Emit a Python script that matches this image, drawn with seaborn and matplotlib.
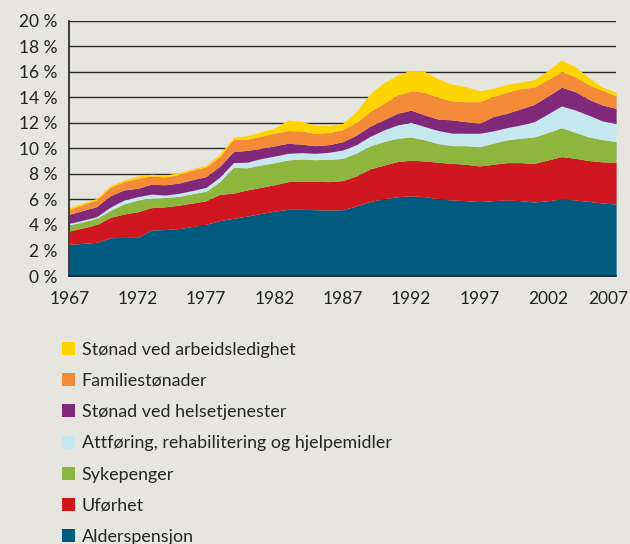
import numpy as np
import pandas as pd
import matplotlib
matplotlib.use('Agg')
import matplotlib.pyplot as plt
import matplotlib.transforms as mtransforms
import seaborn as sns
from matplotlib.patches import Patch

years = list(range(1967, 2008))

# prosent av BNP, lest av figuren
alderspensjon = [2.49, 2.56, 2.64, 3.00, 3.03, 3.03, 3.61, 3.64, 3.72, 3.88, 4.05, 4.35, 4.52, 4.70,
                 4.90, 5.08, 5.23, 5.23, 5.20, 5.18, 5.20, 5.50, 5.85, 6.05, 6.22, 6.28, 6.22, 6.05,
                 5.96, 5.91, 5.83, 5.91, 5.96, 5.91, 5.80, 5.90, 6.04, 5.96, 5.85, 5.72, 5.65]
uforhet = [1.04, 1.22, 1.38, 1.60, 1.83, 2.01, 1.75, 1.78, 1.83, 1.84, 1.85, 2.05, 1.98, 2.05,
           2.05, 2.07, 2.17, 2.22, 2.22, 2.22, 2.28, 2.35, 2.55, 2.65, 2.75, 2.80, 2.80, 2.87,
           2.87, 2.85, 2.80, 2.85, 2.93, 2.98, 3.03, 3.20, 3.32, 3.27, 3.20, 3.23, 3.27]
sykepenger = [0.47, 0.47, 0.50, 0.55, 0.79, 0.92, 0.74, 0.73, 0.70, 0.73, 0.75, 1.00, 2.02, 1.73,
              1.75, 1.73, 1.70, 1.73, 1.70, 1.75, 1.74, 1.80, 1.80, 1.85, 1.83, 1.82, 1.65, 1.46,
              1.39, 1.46, 1.51, 1.65, 1.78, 1.91, 2.07, 2.15, 2.27, 2.04, 1.85, 1.75, 1.61]
attforing = [0.13, 0.13, 0.13, 0.25, 0.31, 0.26, 0.32, 0.20, 0.23, 0.25, 0.30, 0.35, 0.37, 0.44,
             0.50, 0.52, 0.52, 0.49, 0.50, 0.55, 0.66, 0.65, 0.75, 0.90, 1.04, 1.15, 1.04, 1.02,
             0.98, 0.97, 1.05, 0.96, 0.96, 1.04, 1.20, 1.45, 1.70, 1.75, 1.70, 1.45, 1.44]
helse = [0.71, 0.76, 0.79, 0.90, 0.79, 0.66, 0.78, 0.80, 0.80, 0.85, 0.85, 0.85, 0.86, 0.93,
         0.80, 0.80, 0.79, 0.66, 0.60, 0.60, 0.65, 0.75, 0.80, 0.80, 0.92, 0.95, 0.92, 0.90,
         1.04, 0.91, 0.78, 1.13, 1.13, 1.26, 1.35, 1.40, 1.47, 1.44, 1.25, 1.25, 1.18]
familie = [0.39, 0.46, 0.52, 0.65, 0.65, 0.78, 0.65, 0.61, 0.67, 0.75, 0.75, 0.75, 0.95, 0.88,
           0.95, 1.00, 0.99, 1.04, 0.96, 0.95, 0.95, 1.00, 1.15, 1.30, 1.44, 1.50, 1.78, 1.70,
           1.49, 1.57, 1.70, 1.57, 1.65, 1.60, 1.35, 1.30, 1.23, 1.17, 1.15, 1.15, 0.97]
arbeidsledighet = [0.13, 0.12, 0.13, 0.13, 0.13, 0.18, 0.13, 0.16, 0.15, 0.12, 0.13, 0.20, 0.17, 0.27,
                   0.35, 0.40, 0.84, 0.73, 0.67, 0.55, 0.49, 0.85, 1.40, 1.60, 1.56, 1.65, 1.62, 1.45,
                   1.30, 1.18, 0.84, 0.65, 0.62, 0.49, 0.60, 0.70, 0.91, 0.79, 0.55, 0.25, 0.29]

labels = ['Alderspensjon', 'Uførhet', 'Sykepenger', 'Attføring, rehabilitering og hjelpemidler',
          'Stønad ved helsetjenester', 'Familiestønader', 'Stønad ved arbeidsledighet']
colors = ['#005b7f', '#d0161f', '#8db63f', '#c5e8f0', '#80297b', '#f58a38', '#ffd400']

df = pd.DataFrame({'år': years, labels[0]: alderspensjon, labels[1]: uforhet, labels[2]: sykepenger,
                   labels[3]: attforing, labels[4]: helse, labels[5]: familie, labels[6]: arbeidsledighet})

bg = '#e6e5df'
sns.set_style('white', {'axes.facecolor': bg, 'figure.facecolor': bg})
plt.rcParams['font.family'] = ['Lato', 'DejaVu Sans']

fig = plt.figure(figsize=(6.3, 5.44), dpi=100)
ax = fig.add_axes([0.11, 0.4926, 0.868, 0.469])

ax.stackplot(df['år'], [df[c] for c in labels], colors=colors, linewidth=0, zorder=2)

ax.set_xlim(1967, 2007)
ax.set_ylim(0, 20)
ax.set_xticks(range(1967, 2008, 5))
ax.set_yticks(range(0, 21, 2))
ax.set_yticklabels([f'{v} %' for v in range(0, 21, 2)])
ax.yaxis.grid(True, color='#2a2a2a', linewidth=1.0, zorder=0)
ax.set_axisbelow(True)
ax.tick_params(axis='both', labelsize=12.5, colors='#222222', length=5, width=1, direction='out')
ax.tick_params(axis='y', color='#555555')
ax.tick_params(axis='x', pad=6)
sns.despine(ax=ax, top=True, right=True)
for s in ['left', 'bottom']:
    ax.spines[s].set_color('#222222')
    ax.spines[s].set_linewidth(1.2)

# siste årstall flyttes litt inn så det ikke kuttes
last = ax.get_xticklabels()[-1]
last.set_transform(last.get_transform() + mtransforms.ScaledTranslation(-8 / 100, 0, fig.dpi_scale_trans))

handles = [Patch(facecolor=c, edgecolor='none') for c in colors][::-1]
fig.legend(handles, labels[::-1], loc='upper left', bbox_to_anchor=(0.087, 0.3853),
           frameon=False, fontsize=12.85, handlelength=0.75, handleheight=0.75,
           handletextpad=0.35, labelspacing=0.855, borderaxespad=0)

fig.savefig('out.png', dpi=100, facecolor=bg)
